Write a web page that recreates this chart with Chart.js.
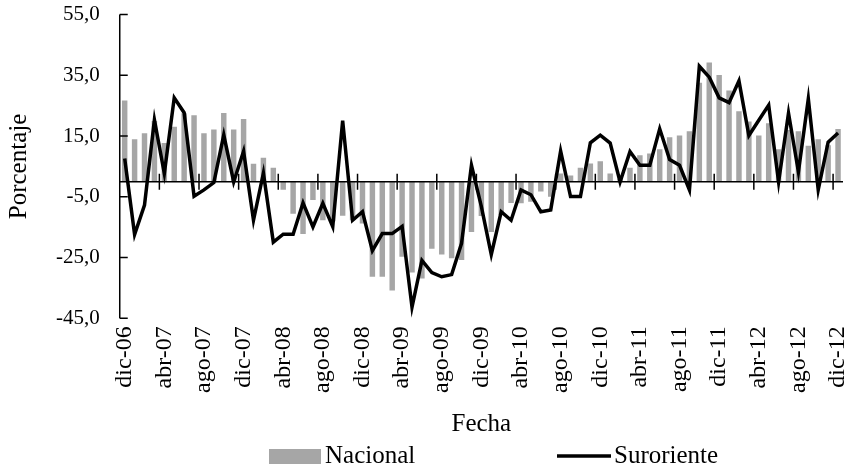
<!DOCTYPE html>
<html>
<head>
<meta charset="utf-8">
<script src="https://cdn.jsdelivr.net/npm/chart.js@4.4.0/dist/chart.umd.min.js"></script>
<style>
  body { margin: 0; background: #fff; }
</style>
</head>
<body>
<canvas id="canvas" width="851" height="472"></canvas>
<script>
// month labels dic-06 .. dic-12
const meses = ['ene', 'feb', 'mar', 'abr', 'may', 'jun', 'jul', 'ago', 'sep', 'oct', 'nov', 'dic'];
const categorias = ['dic-06'];
for (let a = 7; a <= 12; a++) {
  for (let m = 0; m < 12; m++) {
    categorias.push(meses[m] + '-' + (a < 10 ? '0' + a : a));
  }
}

const nacional = [
  26.7, 14.0, 15.9, 20.0, 12.7, 18.1, 22.5, 21.9, 15.9, 17.2, 22.6, 17.2,
  20.6, 5.9, 7.9, 4.6, -2.7, -10.6, -17.2, -6.0, -12.7, -13.0, -11.2, -12.7,
  -13.8, -31.3, -31.3, -35.8, -24.7, -29.9, -31.9, -22.1, -24.0, -25.2, -25.8, -16.6,
  -11.3, -16.6, -11.0, -7.0, -7.1, -6.6, -3.2, -5.0, 2.7, 2.0, 4.6, 6.0,
  6.7, 2.7, 1.0, 4.6, 8.7, 9.3, 10.7, 14.6, 15.2, 16.6, 32.6, 39.2,
  35.1, 30.0, 23.2, 19.8, 15.2, 19.2, 10.7, 17.0, 16.6, 11.8, 14.0, 12.0,
  17.3
];

const suroriente = [
  7.6, -17.4, -7.7, 20.4, 2.7, 27.6, 22.7, -4.8, -2.7, -0.3, 15.4, -0.1,
  10.0, -12.7, 2.8, -19.9, -17.3, -17.3, -7.0, -14.9, -7.1, -14.8, 20.1, -12.7,
  -9.9, -22.7, -17.1, -17.1, -14.7, -41.3, -25.9, -29.9, -31.3, -30.6, -20.3, 5.4,
  -8.2, -24.0, -9.9, -12.7, -2.7, -4.3, -9.9, -9.3, 10.1, -4.9, -4.9, 12.8,
  15.3, 12.7, -0.1, 9.9, 5.4, 5.4, 17.4, 7.3, 5.4, -2.7, 38.0, 34.4,
  27.6, 26.0, 33.2, 15.2, 20.2, 25.2, -0.1, 22.6, 3.2, 27.3, -2.7, 13.0,
  16.0
];

const yMin = -45, yMax = 55, yPaso = 20;
const fuente = 'Liberation Serif';

// axis line at zero, inside ticks, crossing ticks every 4 months
const ejes = {
  id: 'ejes',
  afterDatasetDraw(chart, args) {
    if (args.meta.type !== 'bar') return;
    const ctx = chart.ctx;
    const area = chart.chartArea;
    const x = chart.scales.x, y = chart.scales.y;
    const y0 = y.getPixelForValue(0);
    ctx.save();
    ctx.strokeStyle = '#000';
    ctx.lineWidth = 1.5;
    ctx.beginPath();
    ctx.moveTo(area.left, area.top);
    ctx.lineTo(area.left, area.bottom);
    y.ticks.forEach(t => {
      const py = y.getPixelForValue(t.value);
      ctx.moveTo(area.left, py);
      ctx.lineTo(area.left + 8, py);
    });
    ctx.moveTo(area.left, y0);
    ctx.lineTo(area.right, y0);
    for (let i = 4; i < categorias.length; i += 4) {
      const px = (x.getPixelForValue(i - 1) + x.getPixelForValue(i)) / 2;
      ctx.moveTo(px, y0 - 8);
      ctx.lineTo(px, y0 + 8);
    }
    ctx.stroke();
    ctx.restore();
  }
};

// legend drawn under the axis title
const leyenda = {
  id: 'leyenda',
  afterDraw(chart) {
    const ctx = chart.ctx;
    const ds = chart.data.datasets;
    const yc = 456;
    ctx.save();
    ctx.font = '25px "' + fuente + '"';
    ctx.textBaseline = 'middle';
    ctx.fillStyle = ds[1].backgroundColor;
    ctx.fillRect(269, yc - 7, 52, 15);
    ctx.fillStyle = '#000';
    ctx.fillText(ds[1].label, 325, yc);
    ctx.strokeStyle = ds[0].borderColor;
    ctx.lineWidth = 3.5;
    ctx.beginPath();
    ctx.moveTo(557, yc);
    ctx.lineTo(611, yc);
    ctx.stroke();
    ctx.fillText(ds[0].label, 614, yc);
    ctx.restore();
  }
};

new Chart(document.getElementById('canvas'), {
  data: {
    labels: categorias,
    datasets: [
      {
        type: 'line',
        label: 'Suroriente',
        data: suroriente,
        borderColor: '#000',
        borderWidth: 3.5,
        pointRadius: 0,
        tension: 0,
        order: 0
      },
      {
        type: 'bar',
        label: 'Nacional',
        data: nacional,
        backgroundColor: '#a6a6a6',
        barPercentage: 0.55,
        categoryPercentage: 1,
        order: 1
      }
    ]
  },
  options: {
    responsive: false,
    animation: false,
    layout: { padding: { left: 4, right: 8, top: 6, bottom: 33 } },
    plugins: {
      legend: { display: false },
      tooltip: { enabled: false }
    },
    scales: {
      x: {
        grid: { display: false },
        border: { display: false },
        afterFit: s => { s.paddingRight = 0; },
        ticks: {
          autoSkip: false,
          maxRotation: 90,
          minRotation: 90,
          padding: 0,
          color: '#000',
          font: { family: fuente, size: 24 },
          callback: function (v, i) { return i % 4 === 0 ? categorias[i] : ''; }
        },
        title: {
          display: true,
          text: 'Fecha',
          color: '#000',
          font: { family: fuente, size: 25 },
          padding: { top: 16, bottom: 0 }
        }
      },
      y: {
        min: yMin,
        max: yMax,
        grid: { drawOnChartArea: false, color: 'transparent', tickLength: 18 },
        border: { display: false },
        ticks: {
          stepSize: yPaso,
          padding: 2,
          color: '#000',
          font: { family: fuente, size: 21 },
          callback: v => v.toFixed(1).replace('.', ',')
        },
        title: {
          display: true,
          text: 'Porcentaje',
          color: '#000',
          font: { family: fuente, size: 25 },
          padding: { top: 0, bottom: 20 }
        }
      }
    }
  },
  plugins: [ejes, leyenda]
});
</script>
</body>
</html>
